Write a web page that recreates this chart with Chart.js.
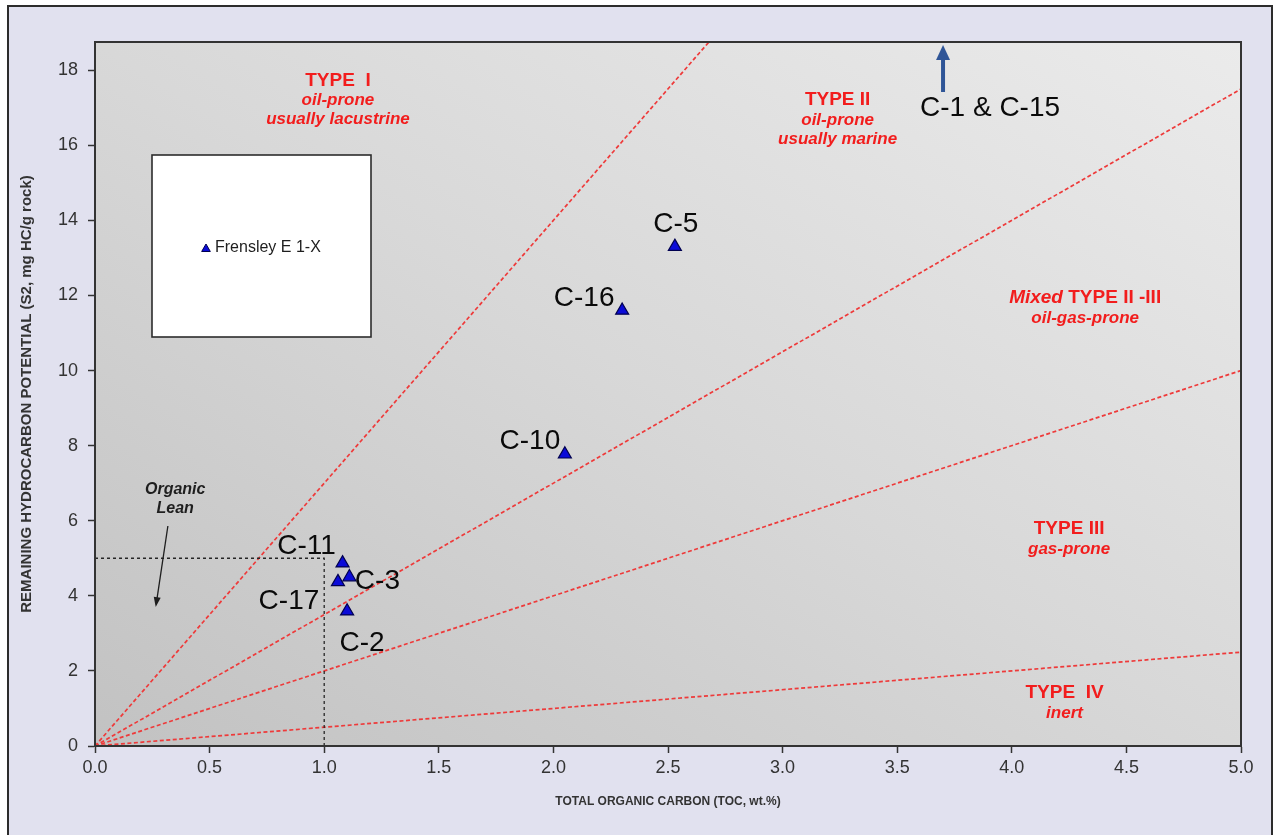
<!DOCTYPE html>
<html>
<head>
<meta charset="utf-8">
<title>Remaining hydrocarbon potential vs TOC</title>
<script src="https://cdn.jsdelivr.net/npm/chart.js@4.4.1/dist/chart.umd.min.js"></script>
<style>
  html, body { margin: 0; padding: 0; background: #ffffff; }
  #wrap { position: relative; width: 1275px; height: 835px; }
</style>
</head>
<body>
<div id="wrap"><canvas id="chart" width="1275" height="835"></canvas></div>
<script>
// Rock-Eval results, Frensley E 1-X
const seriesName = 'Frensley E 1-X';
const sampleIds = ['C-5', 'C-16', 'C-10', 'C-11', 'C-3', 'C-17', 'C-2'];
const tocValues = [2.53, 2.30, 2.05, 1.08, 1.11, 1.06, 1.10];
const s2Values  = [13.3, 11.6, 7.77, 4.87, 4.50, 4.37, 3.59];

// samples whose S2 lies above the top of the plot
const offscaleIds = ['C-1 & C-15'];
const offscaleToc = [3.70];

// kerogen-type boundaries as hydrogen index (mg HC/g TOC): S2 = HI / 100 * TOC
const boundaryHI = [700, 350, 200, 50];

// organic-lean cut-offs
const leanToc = 1.0;
const leanS2 = 5.0;

// axes
const xTickValues = [0, 0.5, 1, 1.5, 2, 2.5, 3, 3.5, 4, 4.5, 5];
const xTickLabels = ['0.0', '0.5', '1.0', '1.5', '2.0', '2.5', '3.0', '3.5', '4.0', '4.5', '5.0'];
const yTickValues = [0, 2, 4, 6, 8, 10, 12, 14, 16, 18];
const yTickLabels = ['0', '2', '4', '6', '8', '10', '12', '14', '16', '18'];
const xMax = 5;
const yMax = 18.75;

// kerogen field captions: first line centred on a TOC/S2 anchor
const kerogenCaptions = [
  { at: [1.06, 17.73], lines: [[['TYPE  I', 'b']], [['oil-prone', 'bi']], [['usually lacustrine', 'bi']]] },
  { at: [3.24, 17.20], lines: [[['TYPE II', 'b']], [['oil-prone', 'bi']], [['usually marine', 'bi']]] },
  { at: [4.32, 11.95], lines: [[['Mixed ', 'bi'], ['TYPE II -III', 'b']], [['oil-gas-prone', 'bi']]] },
  { at: [4.25, 5.78], lines: [[['TYPE III', 'b']], [['gas-prone', 'bi']]] },
  { at: [4.23, 1.41], lines: [[['TYPE  IV', 'b']], [['inert', 'bi']]] }
];

// sample-label offsets from each marker (px)
const labelOffsets = {
  'C-5': [1, -22], 'C-16': [-38, -12], 'C-10': [-35, -13], 'C-11': [-36, -17],
  'C-3': [28, 4], 'C-17': [-49, 19], 'C-2': [15, 32]
};

const FONT = '"Liberation Sans", Arial, Helvetica, sans-serif';
const RED = '#f21d1d';
Chart.defaults.font.family = FONT;

function fontOf(kind, size) {
  if (kind === 'b') return 'bold ' + size + 'px ' + FONT;
  if (kind === 'bi') return 'italic bold ' + size + 'px ' + FONT;
  if (kind === 'i') return 'italic ' + size + 'px ' + FONT;
  return size + 'px ' + FONT;
}

// draws one line made of differently styled runs, centred on x
function drawRuns(ctx, runs, cx, cy, size, color) {
  let total = 0;
  const widths = runs.map(r => { ctx.font = fontOf(r[1], size); const w = ctx.measureText(r[0]).width; total += w; return w; });
  let x = cx - total / 2;
  ctx.fillStyle = color;
  ctx.textAlign = 'left';
  ctx.textBaseline = 'middle';
  runs.forEach((r, i) => { ctx.font = fontOf(r[1], size); ctx.fillText(r[0], x, cy); x += widths[i]; });
}

function arrowHead(ctx, x1, y1, x2, y2, len, half) {
  const ang = Math.atan2(y2 - y1, x2 - x1);
  ctx.beginPath();
  ctx.moveTo(x2, y2);
  ctx.lineTo(x2 - len * Math.cos(ang) + half * Math.sin(ang), y2 - len * Math.sin(ang) - half * Math.cos(ang));
  ctx.lineTo(x2 - len * Math.cos(ang) - half * Math.sin(ang), y2 - len * Math.sin(ang) + half * Math.cos(ang));
  ctx.closePath();
  ctx.fill();
}

const decorPlugin = {
  id: 'decor',
  beforeDraw(chart) {
    const { ctx, chartArea: a } = chart;
    ctx.save();
    // page panel
    ctx.fillStyle = '#ffffff';
    ctx.fillRect(0, 0, chart.width, chart.height);
    ctx.fillStyle = '#e1e1ef';
    ctx.fillRect(8, 6, 1264, chart.height);
    ctx.strokeStyle = '#2c2c2c';
    ctx.lineWidth = 2;
    ctx.strokeRect(8, 6, 1264, chart.height + 10);
    // plot background: shaded from the origin corner toward the upper right
    const w = a.right - a.left, h = a.bottom - a.top;
    const t = (2 * w * h) / (w * w + h * h);
    const g = ctx.createLinearGradient(a.left, a.bottom, a.left + t * h, a.bottom - t * w);
    g.addColorStop(0, '#c2c2c2');
    g.addColorStop(0.5, '#d8d8d8');
    g.addColorStop(1, '#ebebeb');
    ctx.fillStyle = g;
    ctx.fillRect(a.left, a.top, w, h);
    ctx.restore();
  },
  afterDatasetsDraw(chart) {
    const { ctx, chartArea: a, scales: { x, y } } = chart;
    ctx.save();

    // kerogen field captions
    kerogenCaptions.forEach(c => {
      const cx = x.getPixelForValue(c.at[0]);
      let cy = y.getPixelForValue(c.at[1]);
      c.lines.forEach((runs, i) => {
        const size = i === 0 ? 19 : 17;
        if (i === 1) cy += 20.5; else if (i > 1) cy += 18.5;
        drawRuns(ctx, runs, cx, cy, size, RED);
      });
    });

    // organic lean note and pointer
    const lx = x.getPixelForValue(0.35), ly = y.getPixelForValue(6.82);
    drawRuns(ctx, [['Organic', 'bi']], lx, ly, 16, '#1e1e1e');
    drawRuns(ctx, [['Lean', 'bi']], lx, ly + 19, 16, '#1e1e1e');
    const ax1 = x.getPixelForValue(0.318), ay1 = y.getPixelForValue(5.86);
    const ax2 = x.getPixelForValue(0.265), ay2 = y.getPixelForValue(3.70);
    ctx.strokeStyle = '#1e1e1e';
    ctx.fillStyle = '#1e1e1e';
    ctx.lineWidth = 1.3;
    ctx.beginPath();
    ctx.moveTo(ax1, ay1);
    ctx.lineTo(ax2 + 1.2, ay2 - 8);
    ctx.stroke();
    arrowHead(ctx, ax1, ay1, ax2, ay2, 10, 3.5);

    // sample labels
    const meta = chart.getDatasetMeta(0);
    ctx.font = '28px ' + FONT;
    ctx.fillStyle = '#0a0a0a';
    ctx.textAlign = 'center';
    ctx.textBaseline = 'middle';
    meta.data.forEach((pt, i) => {
      const off = labelOffsets[sampleIds[i]] || [0, -20];
      ctx.fillText(sampleIds[i], pt.x + off[0], pt.y + off[1]);
    });

    // off-scale samples: arrow pointing above the plot top
    offscaleToc.forEach((v, i) => {
      const px = x.getPixelForValue(v);
      const tip = a.top + 3, tail = a.top + 50;
      ctx.strokeStyle = '#2f5597';
      ctx.fillStyle = '#2f5597';
      ctx.lineWidth = 4;
      ctx.beginPath();
      ctx.moveTo(px, tail);
      ctx.lineTo(px, tip + 12);
      ctx.stroke();
      arrowHead(ctx, px, tail, px, tip, 15, 7);
      ctx.font = '28px ' + FONT;
      ctx.fillStyle = '#0a0a0a';
      ctx.textAlign = 'left';
      ctx.textBaseline = 'middle';
      ctx.fillText(offscaleIds[i], px - 23, a.top + 66);
    });

    // legend box
    const bx = a.left + 57, by = a.top + 113, bw = 219, bh = 182;
    ctx.fillStyle = '#ffffff';
    ctx.fillRect(bx, by, bw, bh);
    ctx.strokeStyle = '#2c2c2c';
    ctx.lineWidth = 1.6;
    ctx.strokeRect(bx, by, bw, bh);
    const r = 5, tx = bx + 54, ty = by + 94;
    ctx.fillStyle = '#0b0bd8';
    ctx.strokeStyle = '#000050';
    ctx.beginPath();
    ctx.moveTo(tx, ty - r);
    ctx.lineTo(tx + r * 0.866, ty + r * 0.5);
    ctx.lineTo(tx - r * 0.866, ty + r * 0.5);
    ctx.closePath();
    ctx.fill();
    ctx.lineWidth = 1;
    ctx.stroke();
    ctx.font = '16px ' + FONT;
    ctx.fillStyle = '#1e1e1e';
    ctx.textAlign = 'left';
    ctx.textBaseline = 'middle';
    ctx.fillText(seriesName, bx + 63, by + 93);

    ctx.restore();
  },
  afterDraw(chart) {
    const { ctx, chartArea: a } = chart;
    ctx.save();
    ctx.strokeStyle = '#333333';
    ctx.lineWidth = 2;
    ctx.strokeRect(a.left, a.top, a.right - a.left, a.bottom - a.top);
    ctx.restore();
  }
};

const boundaryDatasets = boundaryHI.map(hi => ({
  type: 'line',
  label: 'HI ' + hi,
  data: [{ x: 0, y: 0 }, { x: xMax, y: hi / 100 * xMax }],
  borderColor: '#ee3a3a',
  borderWidth: 1.7,
  borderDash: [4, 2.5],
  pointRadius: 0,
  fill: false,
  showLine: true,
  tension: 0
}));

const leanDataset = {
  type: 'line',
  label: 'Organic lean',
  data: [{ x: 0, y: leanS2 }, { x: leanToc, y: leanS2 }, { x: leanToc, y: 0 }],
  borderColor: '#262626',
  borderWidth: 1.3,
  borderDash: [3, 3],
  pointRadius: 0,
  fill: false,
  showLine: true,
  tension: 0
};

const sampleDataset = {
  type: 'scatter',
  label: seriesName,
  data: tocValues.map((v, i) => ({ x: v, y: s2Values[i] })),
  pointStyle: 'triangle',
  pointRadius: 7.5,
  backgroundColor: '#0b0bd8',
  borderColor: '#000050',
  borderWidth: 1.2
};

new Chart(document.getElementById('chart'), {
  type: 'scatter',
  data: { datasets: [sampleDataset, leanDataset, ...boundaryDatasets] },
  options: {
    responsive: false,
    devicePixelRatio: 1,
    animation: false,
    layout: { padding: { top: 42, right: 34, left: 0, bottom: 0 } },
    plugins: { legend: { display: false }, tooltip: { enabled: false } },
    scales: {
      x: {
        type: 'linear',
        min: 0,
        max: xMax,
        afterBuildTicks: s => { s.ticks = xTickValues.map(v => ({ value: v })); },
        afterFit: s => { s.height = 89; },
        ticks: {
          callback: (v, i) => xTickLabels[i],
          font: { size: 18 },
          color: '#333333',
          padding: 4,
          maxRotation: 0,
          autoSkip: false
        },
        grid: { display: true, drawOnChartArea: false, drawTicks: true, tickLength: 7, tickColor: '#333333', tickWidth: 1.5 },
        border: { display: true, color: '#333333', width: 2 },
        title: {
          display: true,
          text: 'TOTAL ORGANIC CARBON (TOC, wt.%)',
          font: { size: 12, weight: 'bold' },
          color: '#333333',
          padding: { top: 0, bottom: 26 }
        }
      },
      y: {
        type: 'linear',
        min: 0,
        max: yMax,
        afterBuildTicks: s => { s.ticks = yTickValues.map(v => ({ value: v })); },
        afterFit: s => { s.width = 95; },
        ticks: {
          callback: (v, i) => yTickLabels[i],
          font: { size: 18 },
          color: '#333333',
          padding: 10,
          autoSkip: false
        },
        grid: { display: true, drawOnChartArea: false, drawTicks: true, tickLength: 7, tickColor: '#333333', tickWidth: 1.5 },
        border: { display: true, color: '#333333', width: 2 },
        title: {
          display: true,
          text: 'REMAINING HYDROCARBON POTENTIAL (S2, mg HC/g rock)',
          font: { size: 15, weight: 'bold' },
          color: '#333333',
          padding: { top: 18, bottom: 0 }
        }
      }
    }
  },
  plugins: [decorPlugin]
});
</script>
</body>
</html>
